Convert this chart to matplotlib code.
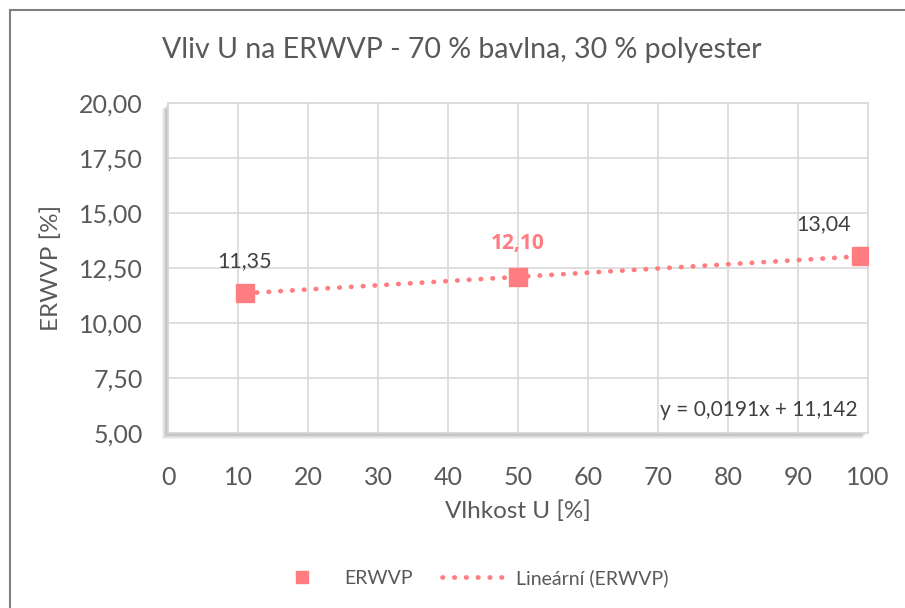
import matplotlib.pyplot as plt
import numpy as np
from matplotlib.patches import Rectangle

# data
vlhkost = [11, 50, 99]
erwvp = [11.35, 12.10, 13.04]
labels = ["11,35", "12,10", "13,04"]
slope, intercept = 0.0191, 11.142

x_ticks = list(range(0, 101, 10))
y_ticks = [5, 7.5, 10, 12.5, 15, 17.5, 20]

salmon = "#FF7C80"
txt = "#595959"
grid = "#D9D9D9"

plt.rcParams['font.family'] = ['Lato', 'DejaVu Sans']

fig = plt.figure(figsize=(9.05, 6.08), dpi=100)
W, H = 905, 608

# outer chart border
fig.patches.append(Rectangle((10 / W, -0.01), 1.0, 1 - 10 / H + 0.01, transform=fig.transFigure,
                             fill=False, edgecolor="#7F7F7F", linewidth=1.5))

ax = fig.add_axes([168 / W, 1 - 433 / H, 700 / W, 330 / H])

# soft shadow behind the plot area (left and bottom)
for i in range(6):
    off = (i + 1) * 1.0
    fig.patches.append(Rectangle(((168 - off) / W, (1 - 433 / H) - off / H), 700 / W, 330 / H,
                                 transform=fig.transFigure, facecolor="#000000",
                                 alpha=0.05, edgecolor="none", zorder=-1))
ax.set_facecolor("white")

xs = np.array([vlhkost[0], vlhkost[-1]])
ax.plot(xs, slope * xs + intercept, linestyle=(0, (0.1, 2.4)), dash_capstyle="round",
        color=salmon, linewidth=3.4, label="Lineární (ERWVP)", zorder=3)
ax.plot(vlhkost, erwvp, linestyle="none", marker="s", markersize=12.5, color=salmon,
        label="ERWVP", zorder=4)

offsets = [(0, 19), (0, 20), (-27, 19)]
for i, (x, y, s) in enumerate(zip(vlhkost, erwvp, labels)):
    if i == 1:
        ax.annotate(s, (x, y), xytext=offsets[i], textcoords="offset points", ha="center",
                    fontsize=15, color=salmon, fontweight="bold", family=["Open Sans", "DejaVu Sans"])
    else:
        ax.annotate(s, (x, y), xytext=offsets[i], textcoords="offset points",
                    ha="center", fontsize=15.5, color="#404040")

ax.text(0.985, 0.04, "y = 0,0191x + 11,142", transform=ax.transAxes, ha="right", va="bottom",
        fontsize=15, color="#404040")

ax.set_xlim(0, 100)
ax.set_ylim(5, 20)
ax.set_xticks(x_ticks)
ax.set_yticks(y_ticks)
ax.set_yticklabels([f"{v:.2f}".replace(".", ",") for v in y_ticks])
ax.tick_params(length=0, labelsize=18, colors=txt)
ax.tick_params(axis="y", pad=18)
ax.tick_params(axis="x", pad=24)
ax.grid(True, color=grid, linewidth=1.2)
ax.set_axisbelow(True)
for sp in ax.spines.values():
    sp.set_color(grid)
    sp.set_linewidth(1.2)

ax.set_xlabel("Vlhkost U [%]", fontsize=17.5, color=txt, labelpad=8)
ax.set_ylabel("ERWVP [%]", fontsize=17.5, color=txt, labelpad=12)
fig.text(0.51, 1 - 50 / H, "Vliv U na ERWVP - 70 % bavlna, 30 % polyester", ha="center", va="center",
         fontsize=20.5, color=txt)

handles, lbls = ax.get_legend_handles_labels()
fig.legend(handles[::-1], lbls[::-1], loc="center", bbox_to_anchor=(0.5 + 17 / W, 1 - 578 / H), ncol=2,
           frameon=False, fontsize=14, labelcolor=txt, handlelength=3.2, columnspacing=1.5,
           handletextpad=0.6, markerscale=0.65)

fig.savefig("out.png", dpi=100)
